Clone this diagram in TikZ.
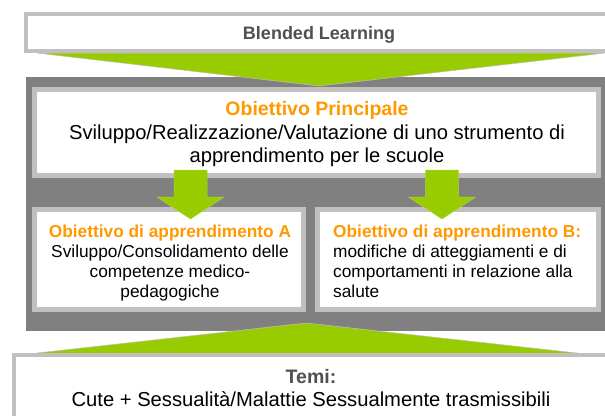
\documentclass[tikz,border=0pt]{standalone}
\usepackage{fontspec}
\setmainfont{Liberation Sans}
\definecolor{lgreen}{HTML}{99CC00}
\definecolor{panelgray}{HTML}{808080}
\definecolor{bordergray}{HTML}{C0C0C0}
\definecolor{titleorange}{HTML}{FF9900}
\definecolor{darktext}{HTML}{505050}
\tikzset{
  framebox/.style={draw=bordergray, fill=white, line width=4.6pt},
  greenshape/.style={fill=lgreen, draw=bordergray, line width=0.5pt, line join=miter},
  blockarrow/.style={fill=lgreen, draw=lgreen!80!white, line width=0.5pt},
  bigtxt/.style={inner sep=0pt, anchor=base, font=\fontsize{20.2}{24}\selectfont},
  bigtitle/.style={inner sep=0pt, anchor=base, font=\fontsize{19.5}{24}\selectfont\bfseries},
  smalltxt/.style={inner sep=0pt, font=\fontsize{17.3}{20}\selectfont},
  smalltitle/.style={inner sep=0pt, font=\fontsize{17.3}{20}\selectfont\bfseries, text=titleorange},
}
\begin{document}
\begin{tikzpicture}[x=1pt,y=-1pt]
\useasboundingbox (0,0) rectangle (605,415);
\begin{scope}
\clip (0,0) rectangle (605,415);
% grey panel
\fill[panelgray] (26,77) rectangle (625,331);
% top box
\draw[framebox, line width=4.2pt] (26,14) rectangle (625,51);
\node[bigtitle, font=\fontsize{18}{22}\selectfont\bfseries, text=darktext] (blended) at (319,39.5) {Blended Learning};
% top triangle
\draw[greenshape] (38,53.2) -- (604,53.2) -- (319,86) -- cycle;
% main box
\draw[framebox] (34.5,89.5) rectangle (598.5,175.5);
\node[bigtitle, text=titleorange] (mtitle) at (317,115.5) {Obiettivo Principale};
\node[bigtxt] (mline1) at (317,139) {Sviluppo/Realizzazione/Valutazione di uno strumento di};
\node[bigtxt] (mline2) at (317,162.5) {apprendimento per le scuole};
% sub boxes
\draw[framebox] (34.5,209.5) rectangle (303.5,309.5);
\draw[framebox] (317.5,209.5) rectangle (598.5,309.5);
\node[smalltitle, anchor=base] (atitle) at (170,237) {Obiettivo di apprendimento A};
\node[smalltxt, anchor=base] (aline1) at (170,257) {Sviluppo/Consolidamento delle};
\node[smalltxt, anchor=base] (aline2) at (170,277) {competenze medico-};
\node[smalltxt, anchor=base] (aline3) at (170,297) {pedagogiche};
\node[smalltitle, anchor=base west] (btitle) at (333,237) {Obiettivo di apprendimento B:};
\node[smalltxt, anchor=base west] (bline1) at (333,257) {modifiche di atteggiamenti e di};
\node[smalltxt, anchor=base west] (bline2) at (333,277) {comportamenti in relazione alla};
\node[smalltxt, anchor=base west] (bline3) at (333,297) {salute};
% block arrows
\draw[blockarrow] (174,170) -- (207,170) -- (207,197) -- (224,197) -- (190.5,219) -- (157,197) -- (174,197) -- cycle;
\draw[blockarrow] (425.5,170) -- (458.5,170) -- (458.5,197) -- (475.5,197) -- (442,219) -- (408.5,197) -- (425.5,197) -- cycle;
% bottom triangle
\draw[greenshape] (28,354) -- (586,354) -- (306,323) -- cycle;
% bottom box
\draw[framebox, line width=4.4pt] (14.2,355) rectangle (630,440);
\node[bigtitle, text=darktext] (temi) at (311,383) {Temi:};
\node[bigtxt] (temiline) at (311,406.7) {Cute + Sessualità/Malattie Sessualmente trasmissibili};
\end{scope}
\end{tikzpicture}
\end{document}
